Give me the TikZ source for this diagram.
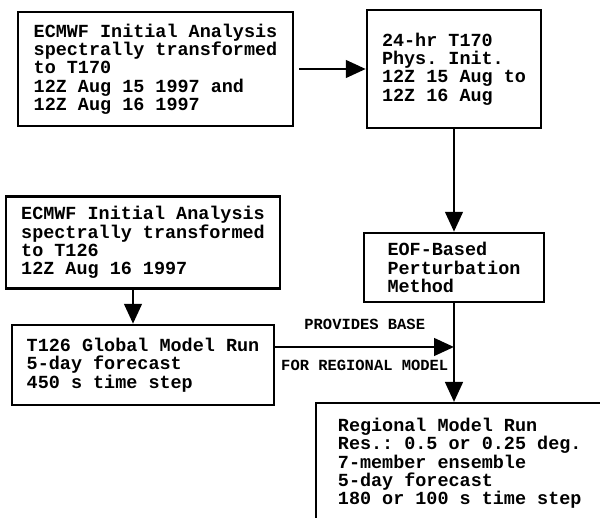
\documentclass[tikz,border=0pt]{standalone}
\usepackage{fontspec}
\setmonofont{Liberation Mono}
\usetikzlibrary{positioning,arrows.meta}
\newcommand{\boxfont}{\ttfamily\bfseries\fontsize{10.5pt}{10.4pt}\selectfont}
\newcommand{\lblfont}{\ttfamily\bfseries\fontsize{8.8pt}{9pt}\selectfont}
\tikzset{
  blk/.style={draw, line width=1.4pt, align=left, font=\boxfont, inner xsep=0.3cm, inner ysep=0.2cm},
  lbl/.style={font=\lblfont, inner sep=1pt},
  flow/.style={->, line width=1.7pt}
}

\begin{document}
\begin{tikzpicture}[node distance=2cm,>={Triangle[length=0.4cm,width=0.35cm]}]
\useasboundingbox (0,0) rectangle (12,10.36);

\node[blk, minimum width=5.5cm, minimum height=2.28cm] at (3.11,8.98) (ana170)
  {ECMWF Initial Analysis\\spectrally transformed\\to T170\\12Z Aug 15 1997 and\\12Z Aug 16 1997};
\node[blk, right of = ana170, node distance = 5.97cm, minimum width=3.48cm, minimum height=2.36cm] (phys)
  {24-hr T170\\Phys. Init.\\12Z 15 Aug to\\12Z 16 Aug};
\draw[flow, shorten <=0.1cm] (ana170) -- (phys);

\node[blk, below of = phys, node distance = 3.97cm, minimum width=3.6cm, minimum height=1.38cm, inner ysep=0.1cm] (eof)
  {EOF-Based\\Perturbation\\Method};
\draw[flow] (phys) -- (eof);

\node[blk, minimum width=5.4cm, minimum height=1.82cm] at (2.86,5.51) (ana126)
  {ECMWF Initial Analysis\\spectrally transformed\\to T126\\12Z Aug 16 1997};
\node[blk, below of = ana126, node distance = 2.45cm, minimum width=5.2cm, minimum height=1.6cm] (glob)
  {T126 Global Model Run\\5-day forecast\\450 s time step};
\draw[flow] ([xshift=-0.2cm]ana126.south) -- ([xshift=-0.2cm]glob.north);

\node[blk, anchor=north west, minimum width=5.74cm, inner ysep=0.3cm] at (6.30,2.32) (reg)
  {Regional Model Run\\Res.: 0.5 or 0.25 deg.\\7-member ensemble\\5-day forecast\\180 or 100 s time step};
\coordinate (regin) at (eof.south |- reg.north);
\draw[flow] (eof) -- (regin);

\coordinate (baseL) at ([yshift=0.36cm]glob.east);
\coordinate (baseR) at (baseL -| eof.south);
\draw[flow] (baseL) -- node[lbl, above=0.28cm] (prov) {PROVIDES BASE}
  node[lbl, below=0.2cm] (forreg) {FOR REGIONAL MODEL} (baseR);
\end{tikzpicture}
\end{document}
